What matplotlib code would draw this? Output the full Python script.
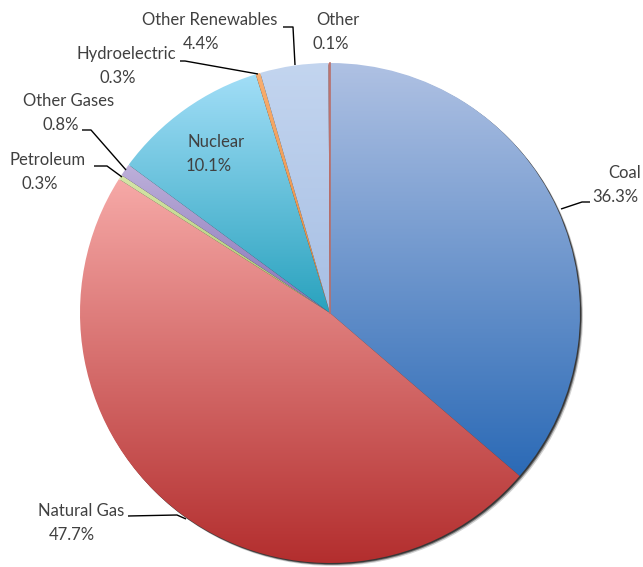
import numpy as np
import matplotlib
matplotlib.use("Agg")
import matplotlib.pyplot as plt
from matplotlib.colors import LinearSegmentedColormap

# ---- data ----
categories = ["Coal", "Natural Gas", "Petroleum", "Other Gases", "Nuclear",
              "Hydroelectric", "Other Renewables", "Other"]
shares = [36.3, 47.7, 0.3, 0.8, 10.1, 0.3, 4.4, 0.1]
pct_labels = ["36.3%", "47.7%", "0.3%", "0.8%", "10.1%", "0.3%", "4.4%", "0.1%"]

# gradient colours (top, bottom) per slice
grad = {
    "Coal": ("#AFC1E3", "#2B6AB6"),
    "Natural Gas": ("#F6A9A7", "#B32E2E"),
    "Petroleum": ("#D6E6A8", "#A8C46A"),
    "Other Gases": ("#BDB0DA", "#8672B6"),
    "Nuclear": ("#A2DEF7", "#29A2BE"),
    "Hydroelectric": ("#F8AE70", "#E88838"),
    "Other Renewables": ("#C3D5EF", "#A7BFE4"),
    "Other": ("#D98E89", "#C0504D"),
}

W, H = 643, 567
fig = plt.figure(figsize=(W / 100, H / 100), dpi=100)
ax = fig.add_axes([0, 0, 1, 1])

cx, cy, R = 330, 567 - 313, 250

# soft shadow toward bottom-right
for off, a in [(3, 0.2), (2, 0.45), (1.2, 0.7)]:
    ax.add_patch(plt.Circle((cx + off, cy - off), R, color="#1A1A1A", alpha=a, lw=0, zorder=0))

wedges, _ = ax.pie(shares, startangle=90, counterclock=False, center=(cx, cy),
                   radius=R, frame=True,
                   wedgeprops=dict(linewidth=0, edgecolor="none"))

for w, name in zip(wedges, categories):
    w.set_facecolor("none")
    w.set_zorder(2)
    ext = w.get_path().get_extents()
    x0, x1 = ext.x0, ext.x1
    y0, y1 = ext.y0, ext.y1
    x0 = max(x0, cx - R); x1 = min(x1, cx + R)
    y0 = max(y0, cy - R); y1 = min(y1, cy + R)
    if x1 - x0 < 3:
        x0 -= 1.5; x1 += 1.5
    cmap = LinearSegmentedColormap.from_list(name, [grad[name][1], grad[name][0]])
    g = np.linspace(0, 1, 256).reshape(-1, 1)
    im = ax.imshow(g, cmap=cmap, origin="lower", extent=[x0, x1, y0, y1],
                   aspect="auto", zorder=1, interpolation="bilinear")
    im.set_clip_path(w)

# thin edge of the tiny "Other" slice
ax.plot([cx, cx], [cy, cy + R], color="#B8706C", lw=1.2, zorder=3)

txt = "#404040"
font = dict(family=["Lato", "DejaVu Sans"], fontsize=12, color=txt)

def put(x, y, s, ha="center"):
    ax.text(x, 567 - y, s, ha=ha, va="center", **font)

# label positions (pixel coords): name line, pct line
put(625, 173, "Coal"); put(615, 197, pct_labels[0])
put(81, 511, "Natural Gas"); put(72, 535, pct_labels[1])
put(48, 160, "Petroleum"); put(40, 184, pct_labels[2])
put(69, 101, "Other Gases"); put(61, 125, pct_labels[3])
put(216, 142, "Nuclear"); put(209, 166, pct_labels[4])
put(126, 54, "Hydroelectric"); put(118, 78, pct_labels[5])
put(210, 20, "Other Renewables"); put(201, 44, pct_labels[6])
put(338, 20, "Other"); put(331, 44, pct_labels[7])

def leader(pts):
    xs = [p[0] for p in pts]
    ys = [567 - p[1] for p in pts]
    ax.plot(xs, ys, color="black", lw=1.0, zorder=4, solid_capstyle="butt")

leader([(590, 202), (582, 202), (561, 209)])
leader([(128, 516), (177, 515), (186, 519)])
leader([(94, 166), (107, 166), (122, 177)])
leader([(82, 130), (91, 130), (126, 170)])
leader([(180, 61), (185, 61), (258, 74)])
leader([(283, 27), (293, 27), (295, 65)])

ax.set_xlim(0, W)
ax.set_ylim(0, H)
ax.set_aspect("auto")
ax.axis("off")
fig.savefig("out.png", dpi=100)
